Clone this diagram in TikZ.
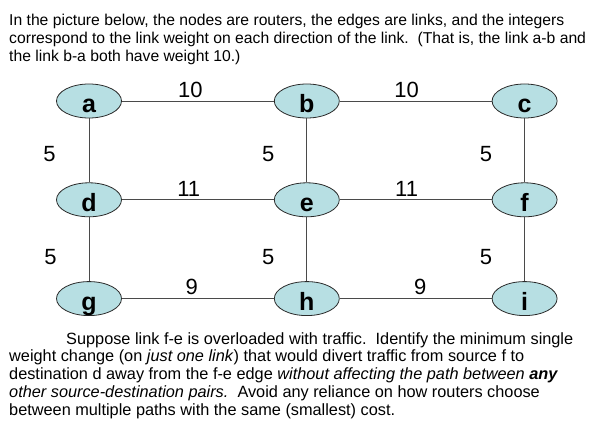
\documentclass[tikz,border=0pt]{standalone}
\usepackage{fontspec}
\setmainfont{Liberation Sans}
\usetikzlibrary{shapes.geometric, positioning}
\definecolor{routerfill}{HTML}{B7DFE3}
\definecolor{routerdraw}{HTML}{2A2A2A}
\definecolor{linkgray}{HTML}{4A4A4A}
\tikzset{
    router/.style={
        ellipse, draw=routerdraw, fill=routerfill, line width=0.8pt,
        minimum width=65pt, minimum height=34pt, inner sep=0pt,
        text height=23pt, text depth=0pt,
        font=\fontsize{25}{25}\selectfont\bfseries
    },
    link/.style={
        draw=linkgray, line width=0.9pt
    },
    weight/.style={
        font=\fontsize{22}{22}\selectfont, inner sep=2pt
    },
    para/.style={
        anchor=north west, inner sep=0pt, align=left,
        font=\fontsize{15.7}{17.8}\selectfont
    }
}

\begin{document}
\begin{tikzpicture}[x=1pt, y=-1pt, node distance=152pt and 64pt]
      \useasboundingbox (0,0) rectangle (595,443);

      \node[para] (intro) at (9,14) {In the picture below, the nodes are routers, the edges are links, and the integers\\
        correspond to the link weight on each direction of the link.\ \ (That is, the link a-b and\\
        the link b-a both have weight 10.)};

      \node[router] (a) at (89,101) {a};
      \node[router, right=152pt of a] (b) {b};
      \node[router, right=152pt of b] (c) {c};
      \node[router, below=64pt of a] (d) {d};
      \node[router, right=152pt of d] (e) {e};
      \node[router, right=152pt of e] (f) {f};
      \node[router, below=64pt of d] (g) {g};
      \node[router, right=152pt of g] (h) {h};
      \node[router, right=152pt of h] (i) {i};

      \draw[link] (a) -- node[weight, above=1pt, pos=0.45] {10} (b);
      \draw[link] (b) -- node[weight, above=1pt, pos=0.44] {10} (c);
      \draw[link] (d) -- node[weight, above=1pt, pos=0.44] {11} (e);
      \draw[link] (e) -- node[weight, above=1pt, pos=0.44] {11} (f);
      \draw[link] (g) -- node[weight, above=1pt, pos=0.46] {9} (h);
      \draw[link] (h) -- node[weight, above=1pt, pos=0.53] {9} (i);

      \draw[link] (a) -- node[weight, left=31pt, pos=0.55] {5} (d);
      \draw[link] (d) -- node[weight, left=30pt, pos=0.62] {5} (g);
      \draw[link] (b) -- node[weight, left=30pt, pos=0.55] {5} (e);
      \draw[link] (e) -- node[weight, left=30pt, pos=0.62] {5} (h);
      \draw[link] (c) -- node[weight, left=30pt, pos=0.55] {5} (f);
      \draw[link] (f) -- node[weight, left=30pt, pos=0.62] {5} (i);

      \node[para, font=\fontsize{16.3}{17.8}\selectfont] (task) at (9,332) {\hspace*{57pt}Suppose link f-e is overloaded with traffic.\ \ Identify the minimum single\\
        weight change (on \emph{just one link}) that would divert traffic from source f to\\
        destination d away from the f-e edge \emph{without affecting the path between \textbf{any}}\\
        \emph{other source-destination pairs.}\ \ Avoid any reliance on how routers choose\\
        between multiple paths with the same (smallest) cost.};
    \end{tikzpicture}
\end{document}
